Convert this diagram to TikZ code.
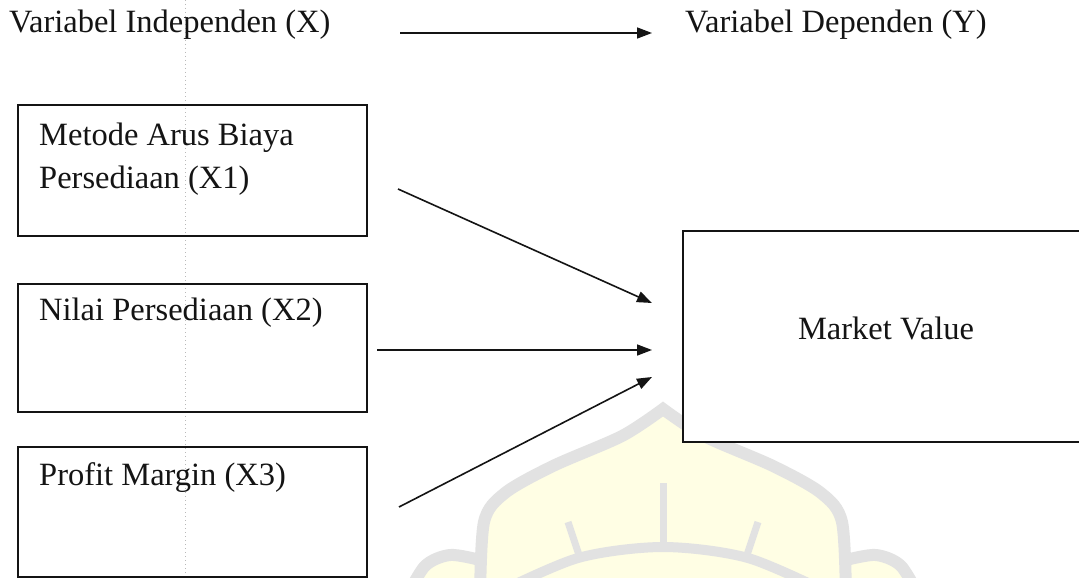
\documentclass[tikz,border=0pt]{standalone}
\usepackage{fontspec}
\setmainfont{Liberation Serif}
\usetikzlibrary{arrows.meta}
\definecolor{wmgray}{RGB}{226,226,226}
\definecolor{wmyellow}{RGB}{255,254,228}
\definecolor{ink}{RGB}{20,20,20}
\begin{document}
\begin{tikzpicture}[x=1pt,y=-1pt,
  lbl/.style={anchor=base west, inner sep=0pt, text=ink, font=\fontsize{32.5}{38}\selectfont},
  box/.style={draw=ink, line width=1.8pt, anchor=north west, inner sep=0pt, minimum width=349pt},
  conn/.style={line width=1.6pt, draw=ink, -{Triangle[length=15pt,width=11pt]}},
  wm/.style={draw=wmgray, line width=12pt},
  guide/.style={draw=gray!55, line width=0.6pt, dash pattern=on 1pt off 3pt}
]
\useasboundingbox (0,0) rectangle (1079,578);
\fill[white] (0,0) rectangle (1079,578);

% watermark
\fill[wmyellow] plot[smooth] coordinates {(480,600) (484,522) (505,493) (553,466) (622,436) (663,409)}
  -- plot[smooth] coordinates {(663,409) (704,436) (773,466) (821,493) (842,522) (846,600)} -- cycle;
\fill[wmyellow] plot[smooth] coordinates {(405,600) (425,566) (450,555) (480,560)} -- (480,600) -- cycle;
\fill[wmyellow] plot[smooth] coordinates {(846,560) (876,555) (901,566) (921,600)} -- (846,600) -- cycle;
\draw[wm, line join=miter, miter limit=10] plot[smooth] coordinates {(480,600) (484,522) (505,493) (553,466) (622,436) (663,409)}
  -- plot[smooth] coordinates {(663,409) (704,436) (773,466) (821,493) (842,522) (846,600)};
\draw[wm] plot[smooth] coordinates {(405,600) (425,566) (450,555) (480,560)};
\draw[wm] plot[smooth] coordinates {(846,560) (876,555) (901,566) (921,600)};
\draw[wm, line width=10pt] plot[smooth] coordinates {(495,594) (578,558) (663,547) (748,558) (831,594)};
\draw[wm, line width=7pt] (663,483) -- (663,547);
\draw[wm, line width=7pt] (568,522) -- (580,558);
\draw[wm, line width=7pt] (758,522) -- (746,558);

% faint dotted guide
\draw[guide] (185,0) -- (185,578);

% boxes
\node[box, minimum height=131pt] (b1) at (17,104) {};
\node[box, minimum height=128pt] (b2) at (17,283) {};
\node[box, minimum height=130pt] (b3) at (17,446) {};
\node[box, fill=white, minimum width=420pt, minimum height=211pt] (mv) at (682,230) {};

% texts
\node[lbl] (tx) at (9,33) {Variabel Independen (X)};
\node[lbl] (ty) at (685,33) {Variabel Dependen (Y)};
\node[lbl] (t1a) at (39,145) {Metode Arus Biaya};
\node[lbl] (t1b) at (39,188) {Persediaan (X1)};
\node[lbl] (t2) at (39,320) {Nilai Persediaan (X2)};
\node[lbl] (t3) at (39,485) {Profit Margin (X3)};
\node[lbl, anchor=base] (tmv) at (886,339) {Market Value};

% connector end points
\coordinate (ts) at (400,33);
\coordinate (te) at (652,33);
\coordinate (a1s) at (398,189);
\coordinate (a1e) at (652,303);
\coordinate (a2s) at (377,350);
\coordinate (a2e) at (652,350);
\coordinate (a3s) at (399,507);
\coordinate (a3e) at (652,377);

\draw[conn] (ts) -- (te);
\draw[conn] (a1s) -- (a1e);
\draw[conn] (a2s) -- (a2e);
\draw[conn] (a3s) -- (a3e);
\end{tikzpicture}
\end{document}
